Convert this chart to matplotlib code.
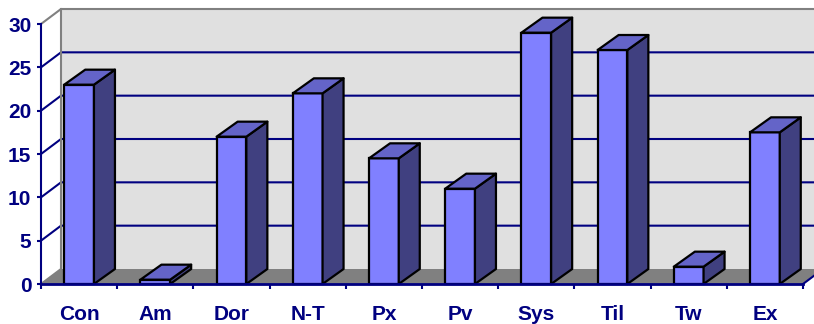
import numpy as np
import matplotlib.pyplot as plt
from matplotlib.patches import Polygon, Rectangle

# counts per category
categories = ["Con", "Am", "Dor", "N-T", "Px", "Pv", "Sys", "Til", "Tw", "Ex"]
counts = [23, 0.5, 17, 22, 14.5, 11, 29, 27, 2, 17.5]
yticks = [0, 5, 10, 15, 20, 25, 30]

NAVY = "#000080"
FRONT = "#8080FF"
TOP = "#6464C8"
SIDE = "#404080"
WALL = "#E0E0E0"
FLOOR = "#808080"

plt.rcParams["font.family"] = ["Liberation Sans", "DejaVu Sans"]
plt.rcParams["font.weight"] = "bold"

fig = plt.figure(figsize=(8.14, 3.24), dpi=100)
ax = fig.add_axes([41 / 814, 40 / 324, 762 / 814, 260 / 324])
ax.set_xlim(-0.5, len(categories) - 0.5)
ax.set_ylim(0, 30)
ax.patch.set_visible(False)
for s in ["top", "right"]:
    ax.spines[s].set_visible(False)

# depth offset of the 3-d box, given in pixels, turned into data units
p0 = ax.transData.transform((0, 0))
p1 = ax.transData.transform((1, 1))
px_x, px_y = p1[0] - p0[0], p1[1] - p0[1]
wdx, wdy = 20 / px_x, 15 / px_y
bdx, bdy = 21 / px_x, 15 / px_y

x0, x1 = -0.5, len(categories) - 0.5
ymax = yticks[-1]

# back wall and floor
ax.add_patch(Polygon([(x0 + wdx, wdy), (x1 + wdx, wdy), (x1 + wdx, ymax + wdy),
                      (x0 + wdx, ymax + wdy)], closed=True, fc=WALL, ec="none",
                     clip_on=False, zorder=0))
ax.add_patch(Polygon([(x0, 0), (x1, 0), (x1 + wdx, wdy), (x0 + wdx, wdy)],
                     closed=True, fc=FLOOR, ec="none", clip_on=False, zorder=1))

# gridlines running back from the axis and across the wall
for v in yticks[1:]:
    c = FLOOR if v == ymax else NAVY
    ax.plot([x0, x0 + wdx, x1 + wdx], [v, v + wdy, v + wdy], color=c, lw=1.5,
            clip_on=False, zorder=1, solid_capstyle="butt")
ax.plot([x0, x0 + wdx, x0 + wdx], [0, wdy, ymax + wdy], color=FLOOR, lw=1.5,
        clip_on=False, zorder=1)
ax.plot([x1, x1 + wdx], [0, wdy], color=NAVY, lw=1.5, clip_on=False, zorder=1)

# bars: front face, top and right side
w = 0.39
for i, v in enumerate(counts):
    l, r = i - w / 2, i + w / 2
    ax.add_patch(Rectangle((l, 0), w, v, fc=FRONT, ec="black", lw=1.6,
                           clip_on=False, zorder=3))
    ax.add_patch(Polygon([(r, 0), (r + bdx, bdy), (r + bdx, v + bdy), (r, v)],
                         closed=True, fc=SIDE, ec="black", lw=1.6,
                         clip_on=False, zorder=3, joinstyle="round"))
    ax.add_patch(Polygon([(l, v), (r, v), (r + bdx, v + bdy), (l + bdx, v + bdy)],
                         closed=True, fc=TOP, ec="black", lw=1.6,
                         clip_on=False, zorder=3, joinstyle="round"))

ax.spines["left"].set_color(NAVY)
ax.spines["bottom"].set_color(NAVY)
ax.spines["left"].set_linewidth(1.5)
ax.spines["bottom"].set_linewidth(2)
ax.spines["left"].set_zorder(4)
ax.spines["bottom"].set_zorder(4)

ax.set_yticks(yticks)
ax.set_yticklabels([str(t) for t in yticks])
ax.set_xticks(range(len(categories)))
ax.set_xticklabels(categories)
ax.set_xticks(np.arange(-0.5, len(categories)), minor=True)
ax.tick_params(axis="x", which="major", length=0, pad=15, labelsize=15,
               labelcolor=NAVY)
ax.tick_params(axis="x", which="minor", length=3.5, width=1.5, color=NAVY,
               direction="out")
ax.tick_params(axis="y", length=3, width=1.5, color=NAVY, pad=4, labelsize=15,
               labelcolor=NAVY)

fig.savefig("out.png", dpi=100)
